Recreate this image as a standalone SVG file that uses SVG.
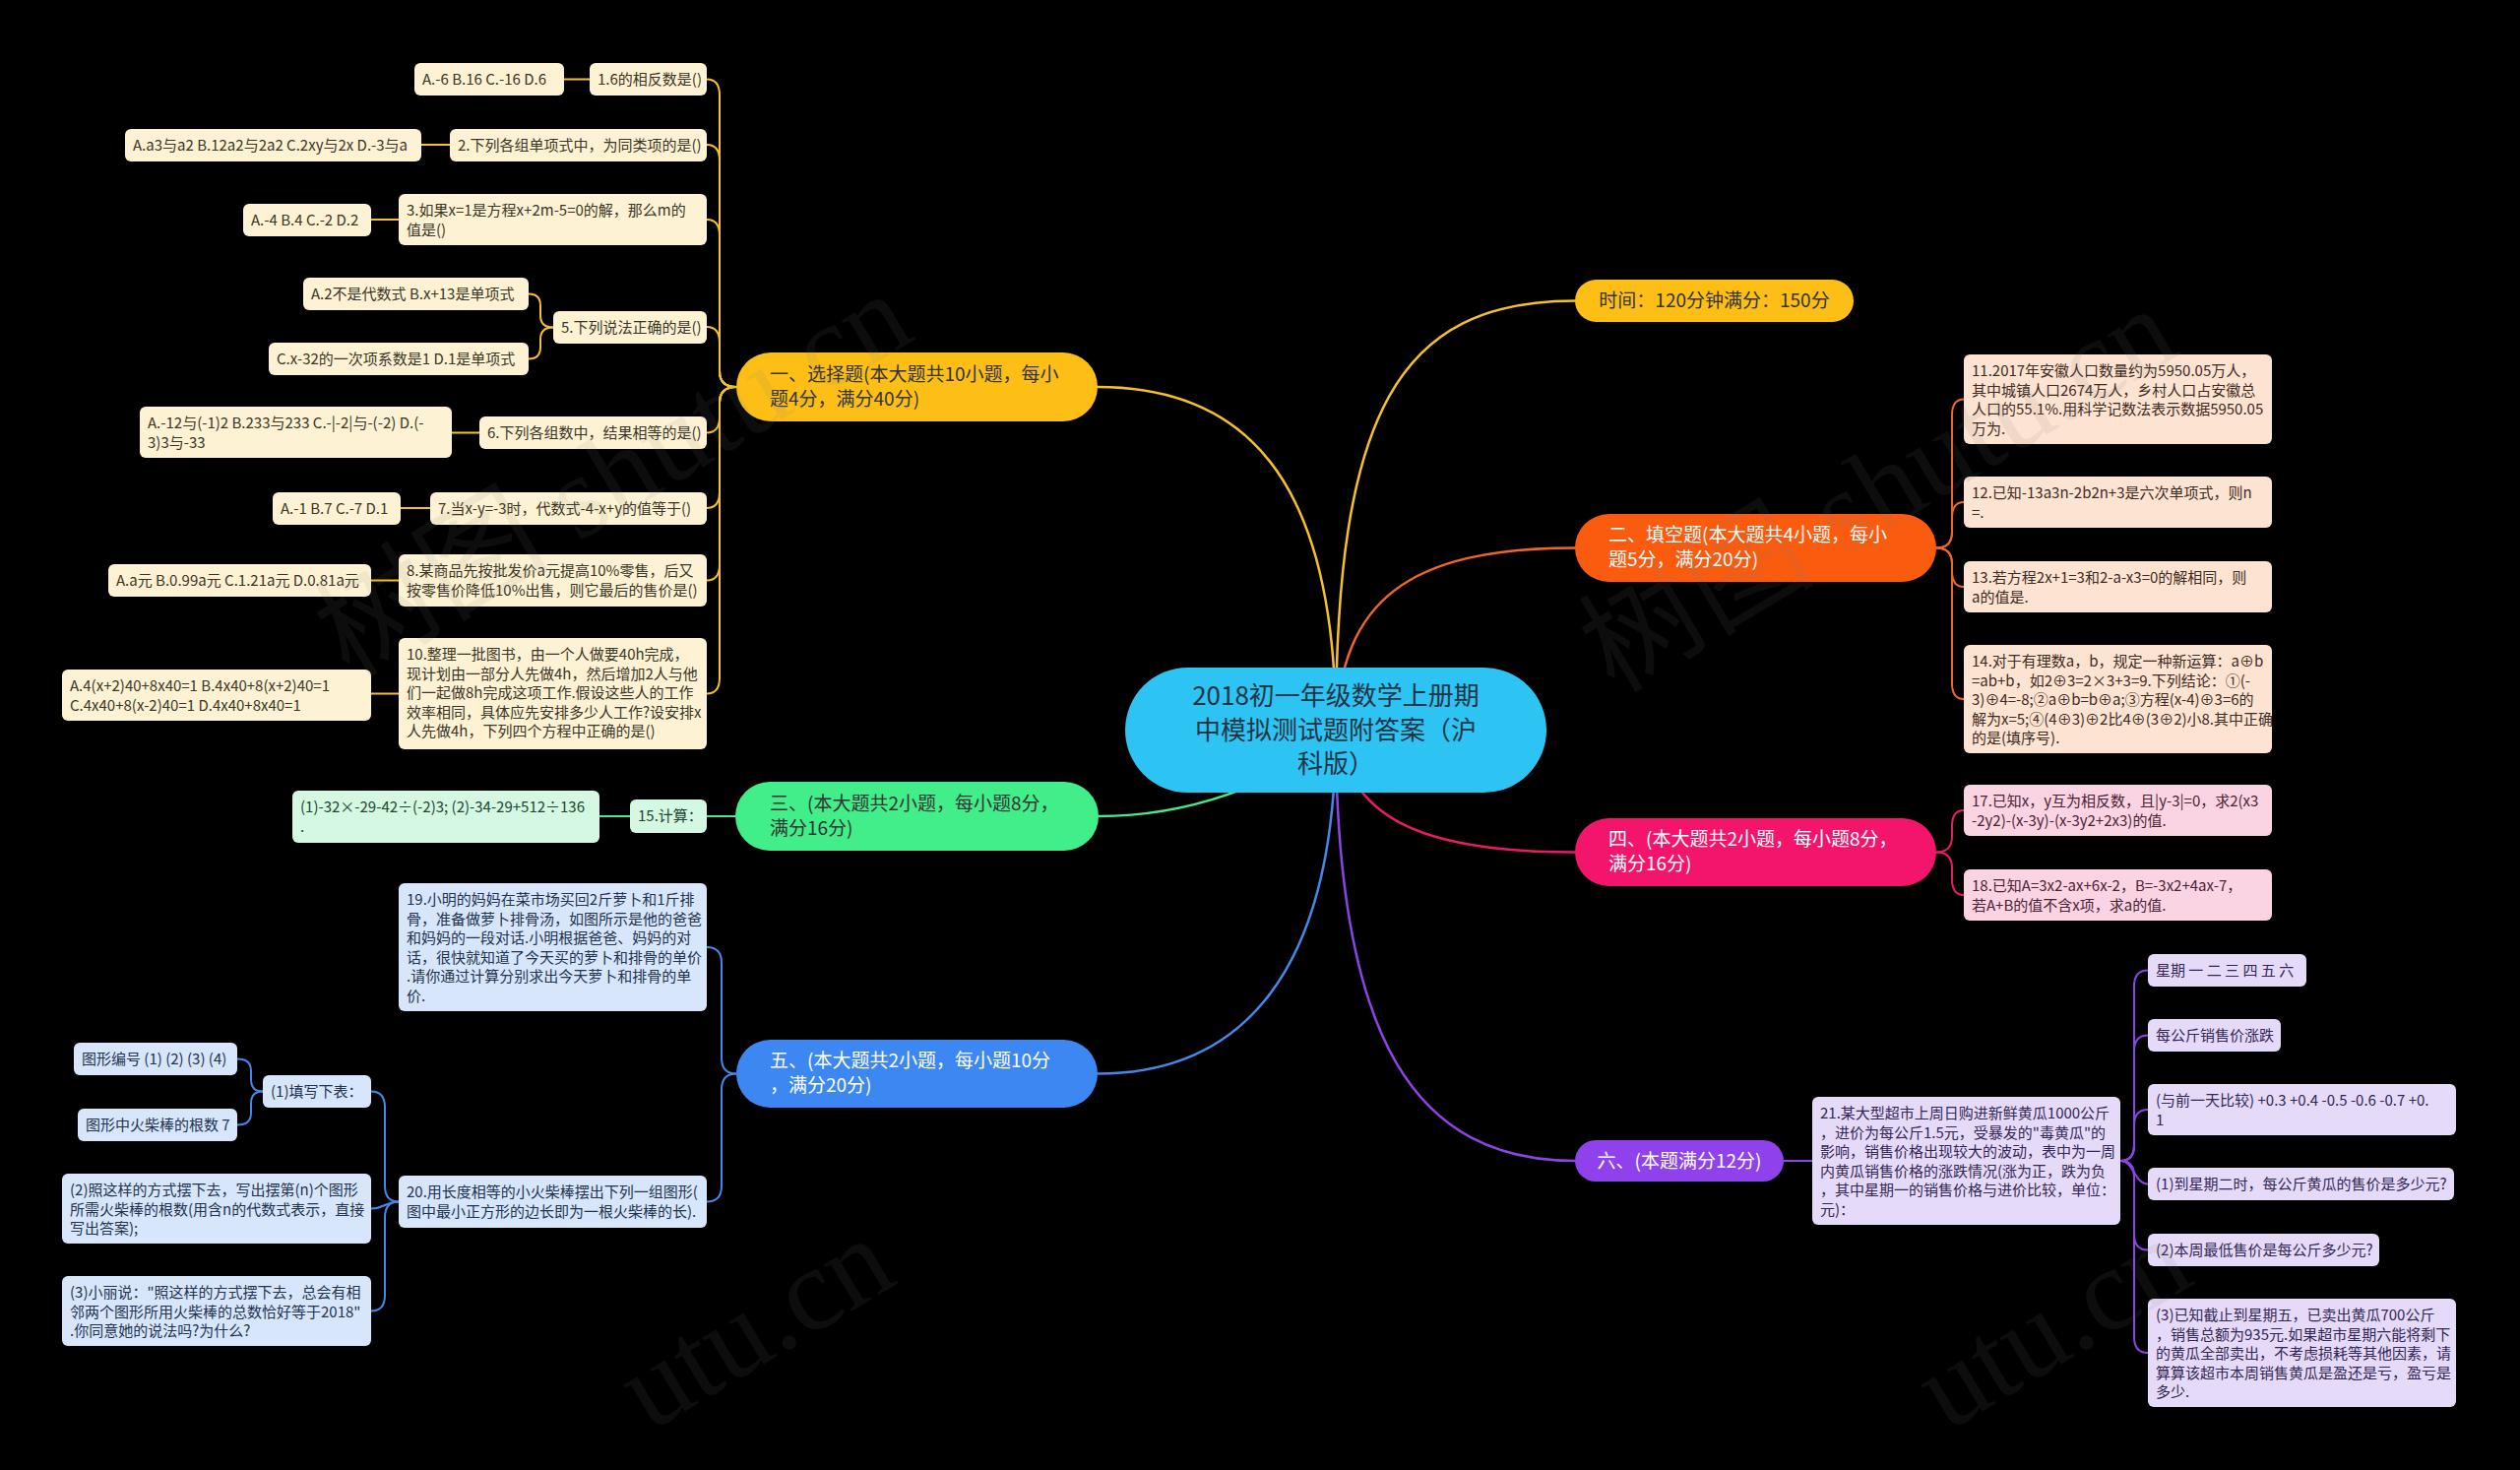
<svg xmlns="http://www.w3.org/2000/svg" width="2560" height="1493" viewBox="0 0 2560 1493">
<style>
text{font-family:"Noto Sans CJK SC","Noto Sans",sans-serif}
.s{font-size:15px}
.b{font-size:19px}
.k1{fill:#FDF2D3}.k2{fill:#FDE3D2}.k3{fill:#D4F8E2}.k4{fill:#FBD4E4}.k5{fill:#D7E6FB}.k6{fill:#E6DAF9}
.d1{fill:#3b3526}.d2{fill:#3d2b22}.d3{fill:#1f4530}.d4{fill:#4a2234}.d5{fill:#23324f}.d6{fill:#322654}
.cn{fill:none;stroke-width:2;stroke-linecap:round}
.m{fill:none;stroke-width:2.5;stroke-linecap:round}
.y{stroke:#F5C02A}.o{stroke:#F0652A}.g{stroke:#46EA8A}.p{stroke:#E81C66}.u{stroke:#4588EC}.v{stroke:#8C44E6}
.wm{font-family:"Liberation Serif","Noto Sans CJK SC",serif;font-size:120px;fill:#808080;fill-opacity:0.1}
</style>
<rect width="2560" height="1493" fill="#000"/>

<g id="connectors">
<path class="m y" d="M1357 741C1357 420 1420 305.5 1600 305.5"/>
<path class="m y" d="M1357 741C1357 480 1260 393 1115 393"/>
<path class="m o" d="M1357 741C1362 610 1430 556.5 1600 556.5"/>
<path class="m g" d="M1357 741C1300 800 1200 829 1116 829"/>
<path class="m p" d="M1357 741C1372 830 1440 865.5 1600 865.5"/>
<path class="m u" d="M1357 741C1357 990 1260 1090.5 1115 1090.5"/>
<path class="m v" d="M1357 741C1357 1060 1440 1179 1600 1179"/>

<path class="cn y" d="M748 393Q731 393 731 377L731 96.5Q731 80.5 718 80.5"/>
<path class="cn y" d="M748 393Q731 393 731 377L731 163Q731 147 718 147"/>
<path class="cn y" d="M748 393Q731 393 731 377L731 239Q731 223 718 223"/>
<path class="cn y" d="M748 393Q731 393 731 377L731 348Q731 332 718 332"/>
<path class="cn y" d="M748 393Q731 393 731 409L731 423.5Q731 439.5 718 439.5"/>
<path class="cn y" d="M748 393Q731 393 731 409L731 500Q731 516 718 516"/>
<path class="cn y" d="M748 393Q731 393 731 409L731 573.5Q731 589.5 718 589.5"/>
<path class="cn y" d="M748 393Q731 393 731 409L731 688.5Q731 704.5 718 704.5"/>
<path class="cn y" d="M562 332.5Q549 332.5 549 320.5L549 310.5Q549 298.5 537 298.5"/>
<path class="cn y" d="M562 332.5Q549 332.5 549 344.5L549 352.5Q549 364.5 537 364.5"/>
<path class="cn y" d="M599 80.5H573"/>
<path class="cn y" d="M457 147H428"/>
<path class="cn y" d="M405 223H377"/>
<path class="cn y" d="M487 439.5H459"/>
<path class="cn y" d="M437 516H407"/>
<path class="cn y" d="M405 589.5H377"/>
<path class="cn y" d="M405 704.5H377"/>

<path class="cn g" d="M747 829H718"/>
<path class="cn g" d="M640 829H609"/>

<path class="cn u" d="M748 1090.5Q733 1090.5 733 1074.5L733 978Q733 962 718 962"/>
<path class="cn u" d="M748 1090.5Q733 1090.5 733 1106.5L733 1204.5Q733 1220.5 718 1220.5"/>
<path class="cn u" d="M405 1220.5Q391 1220.5 391 1204.5L391 1124.5Q391 1108.5 377 1108.5"/>
<path class="cn u" d="M405 1220.5C391 1220.5 391 1227.5 377 1227.5"/>
<path class="cn u" d="M405 1220.5Q391 1220.5 391 1236.5L391 1315.5Q391 1331.5 377 1331.5"/>
<path class="cn u" d="M267 1108.5Q255 1108.5 255 1096.5L255 1087.5Q255 1075.5 241 1075.5"/>
<path class="cn u" d="M267 1108.5Q255 1108.5 255 1120.5L255 1130.5Q255 1142.5 241 1142.5"/>

<path class="cn o" d="M1967 556.5Q1983 556.5 1983 540.5L1983 421.5Q1983 405.5 1995 405.5"/>
<path class="cn o" d="M1967 556.5Q1983 556.5 1983 540.5L1983 526Q1983 510 1995 510"/>
<path class="cn o" d="M1967 556.5Q1983 556.5 1983 572.5L1983 580Q1983 596 1995 596"/>
<path class="cn o" d="M1967 556.5Q1983 556.5 1983 572.5L1983 694Q1983 710 1995 710"/>

<path class="cn p" d="M1967 865.5Q1983 865.5 1983 849.5L1983 839Q1983 823 1995 823"/>
<path class="cn p" d="M1967 865.5Q1983 865.5 1983 881.5L1983 893Q1983 909 1995 909"/>

<path class="cn v" d="M1812 1179H1841"/>
<path class="cn v" d="M2154 1179Q2168 1179 2168 1163L2168 1001.5Q2168 985.5 2182 985.5"/>
<path class="cn v" d="M2154 1179Q2168 1179 2168 1163L2168 1067.5Q2168 1051.5 2182 1051.5"/>
<path class="cn v" d="M2154 1179Q2168 1179 2168 1163L2168 1143Q2168 1127 2182 1127"/>
<path class="cn v" d="M2154 1179C2168 1179 2168 1202.5 2182 1202.5"/>
<path class="cn v" d="M2154 1179Q2168 1179 2168 1195L2168 1253.5Q2168 1269.5 2182 1269.5"/>
<path class="cn v" d="M2154 1179Q2168 1179 2168 1195L2168 1358Q2168 1374 2182 1374"/>
</g>

<g id="center">
<rect x="1143" y="678" width="428" height="127" rx="63.5" fill="#2DC3F2"/>
<text x="1357" y="716" font-size="26" fill="#233444" text-anchor="middle">2018初一年级数学上册期<tspan x="1357" dy="34.5">中模拟测试题附答案（沪</tspan><tspan x="1357" dy="34.5">科版）</tspan></text>
</g>

<g id="b-time">
<rect x="1600" y="284" width="283" height="43" rx="21.5" fill="#FDBF16"/>
<text class="b" x="1741.5" y="312" fill="#333" text-anchor="middle">时间：120分钟满分：150分</text>
</g>
<g id="b1">
<rect x="748" y="358" width="367" height="70" rx="35" fill="#FDBF16"/>
<text class="b" x="782" y="387" fill="#333">一、选择题(本大题共10小题，每小<tspan x="782" dy="25">题4分，满分40分)</tspan></text>
</g>
<g id="b2">
<rect x="1600" y="522" width="367" height="69" rx="34.5" fill="#FA5B0F"/>
<text class="b" x="1634" y="550" fill="#fff">二、填空题(本大题共4小题，每小<tspan x="1634" dy="25">题5分，满分20分)</tspan></text>
</g>
<g id="b3">
<rect x="747" y="794" width="369" height="70" rx="35" fill="#41EE8A"/>
<text class="b" x="782" y="823" fill="#333">三、(本大题共2小题，每小题8分，<tspan x="782" dy="25">满分16分)</tspan></text>
</g>
<g id="b4">
<rect x="1600" y="831" width="367" height="69" rx="34.5" fill="#F2156B"/>
<text class="b" x="1634" y="859" fill="#fff">四、(本大题共2小题，每小题8分，<tspan x="1634" dy="25">满分16分)</tspan></text>
</g>
<g id="b5">
<rect x="748" y="1056" width="367" height="69" rx="34.5" fill="#3D87F2"/>
<text class="b" x="782" y="1084" fill="#fff">五、(本大题共2小题，每小题10分<tspan x="782" dy="25">，满分20分)</tspan></text>
</g>
<g id="b6">
<rect x="1600" y="1158" width="212" height="42" rx="21" fill="#8F42EB"/>
<text class="b" x="1706" y="1186" fill="#fff" text-anchor="middle">六、(本题满分12分)</text>
</g>

<g id="q1"><rect class="k1" x="599" y="64" width="119" height="33" rx="6"/><text class="s d1" x="607" y="86">1.6的相反数是()</text></g>
<g id="a1"><rect class="k1" x="421" y="64" width="152" height="33" rx="6"/><text class="s d1" x="429" y="86">A.-6 B.16 C.-16 D.6</text></g>
<g id="q2"><rect class="k1" x="457" y="131" width="261" height="33" rx="6"/><text class="s d1" x="465" y="153">2.下列各组单项式中，为同类项的是()</text></g>
<g id="a2"><rect class="k1" x="127" y="131" width="301" height="33" rx="6"/><text class="s d1" x="135" y="153">A.a3与a2 B.12a2与2a2 C.2xy与2x D.-3与a</text></g>
<g id="q3"><rect class="k1" x="405" y="197" width="313" height="52" rx="6"/><text class="s d1" x="413" y="219">3.如果x=1是方程x+2m-5=0的解，那么m的<tspan x="413" dy="19.5">值是()</tspan></text></g>
<g id="a3"><rect class="k1" x="247" y="207" width="130" height="33" rx="6"/><text class="s d1" x="255" y="229">A.-4 B.4 C.-2 D.2</text></g>
<g id="q5"><rect class="k1" x="562" y="316" width="156" height="33" rx="6"/><text class="s d1" x="570" y="338">5.下列说法正确的是()</text></g>
<g id="a5a"><rect class="k1" x="308" y="282" width="229" height="33" rx="6"/><text class="s d1" x="316" y="304">A.2不是代数式 B.x+13是单项式</text></g>
<g id="a5b"><rect class="k1" x="273" y="348" width="264" height="33" rx="6"/><text class="s d1" x="281" y="370">C.x-32的一次项系数是1 D.1是单项式</text></g>
<g id="q6"><rect class="k1" x="487" y="423" width="231" height="33" rx="6"/><text class="s d1" x="495" y="445">6.下列各组数中，结果相等的是()</text></g>
<g id="a6"><rect class="k1" x="142" y="413" width="317" height="52" rx="6"/><text class="s d1" x="150" y="435">A.-12与(-1)2 B.233与233 C.-|-2|与-(-2) D.(-<tspan x="150" dy="19.5">3)3与-33</tspan></text></g>
<g id="q7"><rect class="k1" x="437" y="500" width="281" height="33" rx="6"/><text class="s d1" x="445" y="522">7.当x-y=-3时，代数式-4-x+y的值等于()</text></g>
<g id="a7"><rect class="k1" x="277" y="500" width="130" height="33" rx="6"/><text class="s d1" x="285" y="522">A.-1 B.7 C.-7 D.1</text></g>
<g id="q8"><rect class="k1" x="405" y="563" width="313" height="53" rx="6"/><text class="s d1" x="413" y="585">8.某商品先按批发价a元提高10%零售，后又<tspan x="413" dy="19.5">按零售价降低10%出售，则它最后的售价是()</tspan></text></g>
<g id="a8"><rect class="k1" x="110" y="573" width="267" height="33" rx="6"/><text class="s d1" x="118" y="595">A.a元 B.0.99a元 C.1.21a元 D.0.81a元</text></g>
<g id="q10"><rect class="k1" x="405" y="648" width="313" height="113" rx="6"/><text class="s d1" x="413" y="670">10.整理一批图书，由一个人做要40h完成，<tspan x="413" dy="19.5">现计划由一部分人先做4h，然后增加2人与他</tspan><tspan x="413" dy="19.5">们一起做8h完成这项工作.假设这些人的工作</tspan><tspan x="413" dy="19.5">效率相同，具体应先安排多少人工作?设安排x</tspan><tspan x="413" dy="19.5">人先做4h，下列四个方程中正确的是()</tspan></text></g>
<g id="a10"><rect class="k1" x="63" y="680" width="314" height="52" rx="6"/><text class="s d1" x="71" y="702">A.4(x+2)40+8x40=1 B.4x40+8(x+2)40=1<tspan x="71" dy="19.5">C.4x40+8(x-2)40=1 D.4x40+8x40=1</tspan></text></g>

<g id="g15"><rect class="k3" x="640" y="812" width="78" height="34" rx="6"/><text class="s d3" x="648" y="834">15.计算：</text></g>
<g id="g15a"><rect class="k3" x="297" y="803" width="312" height="53" rx="6"/><text class="s d3" x="305" y="825">(1)-32×-29-42÷(-2)3; (2)-34-29+512÷136<tspan x="305" dy="19.5">.</tspan></text></g>

<g id="u19"><rect class="k5" x="405" y="897" width="313" height="130" rx="6"/><text class="s d5" x="413" y="919">19.小明的妈妈在菜市场买回2斤萝卜和1斤排<tspan x="413" dy="19.5">骨，准备做萝卜排骨汤，如图所示是他的爸爸</tspan><tspan x="413" dy="19.5">和妈妈的一段对话.小明根据爸爸、妈妈的对</tspan><tspan x="413" dy="19.5">话，很快就知道了今天买的萝卜和排骨的单价</tspan><tspan x="413" dy="19.5">.请你通过计算分别求出今天萝卜和排骨的单</tspan><tspan x="413" dy="19.5">价.</tspan></text></g>
<g id="u20"><rect class="k5" x="405" y="1194" width="313" height="53" rx="6"/><text class="s d5" x="413" y="1216">20.用长度相等的小火柴棒摆出下列一组图形(<tspan x="413" dy="19.5">图中最小正方形的边长即为一根火柴棒的长).</tspan></text></g>
<g id="u20a"><rect class="k5" x="267" y="1092" width="110" height="33" rx="6"/><text class="s d5" x="275" y="1114">(1)填写下表：</text></g>
<g id="u20a1"><rect class="k5" x="75" y="1059" width="166" height="33" rx="6"/><text class="s d5" x="83" y="1081">图形编号 (1) (2) (3) (4)</text></g>
<g id="u20a2"><rect class="k5" x="79" y="1126" width="162" height="33" rx="6"/><text class="s d5" x="87" y="1148">图形中火柴棒的根数 7</text></g>
<g id="u20b"><rect class="k5" x="63" y="1192" width="314" height="71" rx="6"/><text class="s d5" x="71" y="1214">(2)照这样的方式摆下去，写出摆第(n)个图形<tspan x="71" dy="19.5">所需火柴棒的根数(用含n的代数式表示，直接</tspan><tspan x="71" dy="19.5">写出答案);</tspan></text></g>
<g id="u20c"><rect class="k5" x="63" y="1296" width="314" height="71" rx="6"/><text class="s d5" x="71" y="1318">(3)小丽说："照这样的方式摆下去，总会有相<tspan x="71" dy="19.5">邻两个图形所用火柴棒的总数恰好等于2018"</tspan><tspan x="71" dy="19.5">.你同意她的说法吗?为什么?</tspan></text></g>

<g id="b11"><rect class="k2" x="1995" y="360" width="313" height="91" rx="6"/><text class="s d2" x="2003" y="382">11.2017年安徽人口数量约为5950.05万人，<tspan x="2003" dy="19.5">其中城镇人口2674万人，乡村人口占安徽总</tspan><tspan x="2003" dy="19.5">人口的55.1%.用科学记数法表示数据5950.05</tspan><tspan x="2003" dy="19.5">万为.</tspan></text></g>
<g id="b12"><rect class="k2" x="1995" y="484" width="313" height="52" rx="6"/><text class="s d2" x="2003" y="506">12.已知-13a3n-2b2n+3是六次单项式，则n<tspan x="2003" dy="19.5">=.</tspan></text></g>
<g id="b13"><rect class="k2" x="1995" y="570" width="313" height="52" rx="6"/><text class="s d2" x="2003" y="592">13.若方程2x+1=3和2-a-x3=0的解相同，则<tspan x="2003" dy="19.5">a的值是.</tspan></text></g>
<g id="b14"><rect class="k2" x="1995" y="655" width="313" height="110" rx="6"/><text class="s d2" x="2003" y="677">14.对于有理数a，b，规定一种新运算：a⊕b<tspan x="2003" dy="19.5">=ab+b，如2⊕3=2×3+3=9.下列结论：①(-</tspan><tspan x="2003" dy="19.5">3)⊕4=-8;②a⊕b=b⊕a;③方程(x-4)⊕3=6的</tspan><tspan x="2003" dy="19.5">解为x=5;④(4⊕3)⊕2比4⊕(3⊕2)小8.其中正确</tspan><tspan x="2003" dy="19.5">的是(填序号).</tspan></text></g>

<g id="b17"><rect class="k4" x="1995" y="797" width="313" height="52" rx="6"/><text class="s d4" x="2003" y="819">17.已知x，y互为相反数，且|y-3|=0，求2(x3<tspan x="2003" dy="19.5">-2y2)-(x-3y)-(x-3y2+2x3)的值.</tspan></text></g>
<g id="b18"><rect class="k4" x="1995" y="883" width="313" height="52" rx="6"/><text class="s d4" x="2003" y="905">18.已知A=3x2-ax+6x-2，B=-3x2+4ax-7，<tspan x="2003" dy="19.5">若A+B的值不含x项，求a的值.</tspan></text></g>

<g id="b21"><rect class="k6" x="1841" y="1114" width="313" height="130" rx="6"/><text class="s d6" x="1849" y="1136">21.某大型超市上周日购进新鲜黄瓜1000公斤<tspan x="1849" dy="19.5">，进价为每公斤1.5元，受暴发的"毒黄瓜"的</tspan><tspan x="1849" dy="19.5">影响，销售价格出现较大的波动，表中为一周</tspan><tspan x="1849" dy="19.5">内黄瓜销售价格的涨跌情况(涨为正，跌为负</tspan><tspan x="1849" dy="19.5">，其中星期一的销售价格与进价比较，单位：</tspan><tspan x="1849" dy="19.5">元)：</tspan></text></g>
<g id="c1"><rect class="k6" x="2182" y="969" width="161" height="33" rx="6"/><text class="s d6" x="2190" y="991">星期 一 二 三 四 五 六</text></g>
<g id="c2"><rect class="k6" x="2182" y="1035" width="135" height="33" rx="6"/><text class="s d6" x="2190" y="1057">每公斤销售价涨跌</text></g>
<g id="c3"><rect class="k6" x="2182" y="1101" width="313" height="52" rx="6"/><text class="s d6" x="2190" y="1123">(与前一天比较) +0.3 +0.4 -0.5 -0.6 -0.7 +0.<tspan x="2190" dy="19.5">1</tspan></text></g>
<g id="c4"><rect class="k6" x="2182" y="1186" width="311" height="33" rx="6"/><text class="s d6" x="2190" y="1208">(1)到星期二时，每公斤黄瓜的售价是多少元?</text></g>
<g id="c5"><rect class="k6" x="2182" y="1253" width="235" height="33" rx="6"/><text class="s d6" x="2190" y="1275">(2)本周最低售价是每公斤多少元?</text></g>
<g id="c6"><rect class="k6" x="2182" y="1319" width="313" height="110" rx="6"/><text class="s d6" x="2190" y="1341">(3)已知截止到星期五，已卖出黄瓜700公斤<tspan x="2190" dy="19.5">，销售总额为935元.如果超市星期六能将剩下</tspan><tspan x="2190" dy="19.5">的黄瓜全部卖出，不考虑损耗等其他因素，请</tspan><tspan x="2190" dy="19.5">算算该超市本周销售黄瓜是盈还是亏，盈亏是</tspan><tspan x="2190" dy="19.5">多少.</tspan></text></g>

<g id="watermark">
<text class="wm" transform="translate(355 690) rotate(-31)">树图 shutu.cn</text>
<text class="wm" transform="translate(1640 705) rotate(-31)">树图 shutu.cn</text>
<text class="wm" transform="translate(660 1455) rotate(-31)">utu.cn</text>
<text class="wm" transform="translate(1978 1455) rotate(-31)">utu.cn</text>
</g>
</svg>
